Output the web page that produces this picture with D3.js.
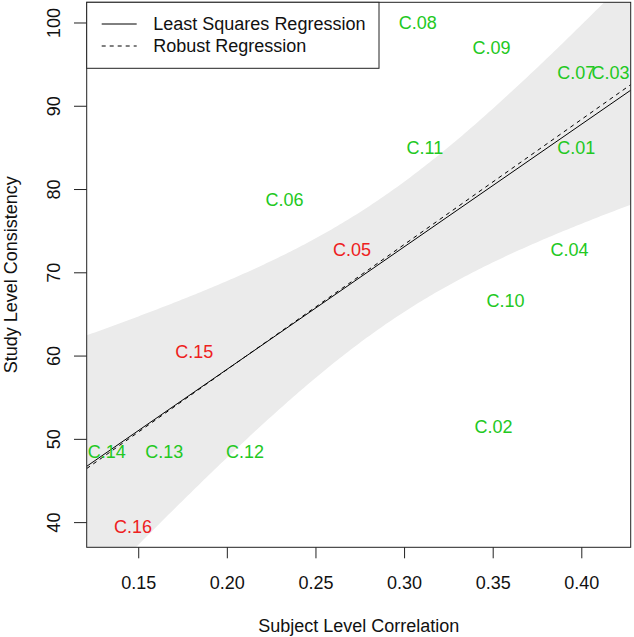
<!DOCTYPE html>
<html>
<head>
<meta charset="utf-8">
<script src="https://cdn.jsdelivr.net/npm/d3@7"></script>
<style>
  html, body { margin: 0; padding: 0; background: #fff; }
  svg { display: block; font-family: "Liberation Sans", Arial, Helvetica, sans-serif; }
</style>
</head>
<body>
<svg id="chart" width="634" height="637"></svg>
<script>
// ---- data ----
const labels = ["C.01","C.02","C.03","C.04","C.05","C.06","C.07","C.08",
                "C.09","C.10","C.11","C.12","C.13","C.14","C.15","C.16"];
const subjectCorr = [0.3972,0.3505,0.4165,0.3933,0.2706,0.2326,0.3972,0.3077,
                     0.3494,0.3573,0.3117,0.2103,0.1647,0.1323,0.1816,0.1471];
const studyConsistency = [85.0,51.5,94.0,72.7,72.7,78.7,94.0,100.0,
                          97.0,66.6,85.0,48.4,48.4,48.4,60.5,39.4];
const flagged = ["C.05","C.15","C.16"];           // drawn in red
const xTicks = [0.15,0.20,0.25,0.30,0.35,0.40];
const yTicks = [40,50,60,70,80,90,100];
const legendLabels = ["Least Squares Regression","Robust Regression"];
const tCrit = 2.144787; // qt(0.975, df = 14)

// ---- layout ----
const W = 634, H = 637;
const plot = {left: 86.7, right: 630.7, top: 2.3, bottom: 547.3};
const FS = 18;
const green = "#22c822", red = "#ee2020", bandFill = "#ebebeb";

const svg = d3.select("#chart");

function rng(a) { const mn = d3.min(a), mx = d3.max(a), d = (mx - mn) * 0.04; return [mn - d, mx + d]; }
const x = d3.scaleLinear().domain(rng(subjectCorr)).range([plot.left, plot.right]);
const y = d3.scaleLinear().domain(rng(studyConsistency)).range([plot.bottom, plot.top]);

// ---- least squares fit ----
const n = subjectCorr.length;
const mx = d3.mean(subjectCorr), my = d3.mean(studyConsistency);
let sxx = 0, sxy = 0;
for (let i = 0; i < n; i++) { sxx += (subjectCorr[i]-mx)**2; sxy += (subjectCorr[i]-mx)*(studyConsistency[i]-my); }
const b1 = sxy / sxx, b0 = my - b1 * mx;
let sse = 0;
for (let i = 0; i < n; i++) sse += (studyConsistency[i] - b0 - b1*subjectCorr[i])**2;
const s = Math.sqrt(sse / (n - 2));

// ---- robust (Huber M-estimator, IRLS, MAD scale) ----
function robustFit(xs, ys) {
  let a = b0, b = b1;
  const k = 1.345;
  for (let it = 0; it < 100; it++) {
    const r = xs.map((xi, i) => ys[i] - a - b*xi);
    const med = d3.median(r.map(Math.abs));
    const sc = med / 0.6745;
    const w = r.map(ri => { const u = Math.abs(ri / sc); return u <= k ? 1 : k / u; });
    const sw = d3.sum(w);
    const wx = d3.sum(xs.map((xi,i)=>w[i]*xi)) / sw;
    const wy = d3.sum(ys.map((yi,i)=>w[i]*yi)) / sw;
    let nxx = 0, nxy = 0;
    xs.forEach((xi,i)=>{ nxx += w[i]*(xi-wx)**2; nxy += w[i]*(xi-wx)*(ys[i]-wy); });
    const nb = nxy / nxx, na = wy - nb*wx;
    const done = Math.abs(nb-b) < 1e-9 && Math.abs(na-a) < 1e-9;
    a = na; b = nb;
    if (done) break;
  }
  return [a, b];
}
const [r0, r1] = robustFit(subjectCorr, studyConsistency);

// ---- clip ----
svg.append("clipPath").attr("id","clip").append("rect")
  .attr("x", plot.left).attr("y", plot.top)
  .attr("width", plot.right - plot.left).attr("height", plot.bottom - plot.top);
const g = svg.append("g").attr("clip-path","url(#clip)");

// confidence band for the mean
const xd = x.domain();
const grid = d3.range(0, 201).map(i => xd[0] + (xd[1]-xd[0]) * i / 200);
const band = grid.map(xv => {
  const fit = b0 + b1*xv;
  const se = s * Math.sqrt(1/n + (xv-mx)**2 / sxx);
  return {x: xv, lo: fit - tCrit*se, hi: fit + tCrit*se};
});
g.append("path").datum(band)
  .attr("d", d3.area().x(d=>x(d.x)).y0(d=>y(d.lo)).y1(d=>y(d.hi)))
  .attr("fill", bandFill).attr("stroke", "none");

// regression lines
const lineGen = d3.line().x(d=>x(d[0])).y(d=>y(d[1]));
g.append("path").datum(xd.map(v=>[v, b0+b1*v]))
  .attr("d", lineGen).attr("fill","none").attr("stroke","#000").attr("stroke-width",1);
g.append("path").datum(xd.map(v=>[v, r0+r1*v]))
  .attr("d", lineGen).attr("fill","none").attr("stroke","#000").attr("stroke-width",1)
  .attr("stroke-dasharray","4,4");

// labels
svg.append("g").selectAll("text").data(labels).join("text")
  .attr("x", (d,i)=>x(subjectCorr[i]))
  .attr("y", (d,i)=>y(studyConsistency[i]))
  .attr("dy","0.35em")
  .attr("text-anchor","middle")
  .attr("font-size", FS)
  .attr("fill", d => flagged.includes(d) ? red : green)
  .text(d=>d);

// box
svg.append("rect")
  .attr("x", plot.left).attr("y", plot.top)
  .attr("width", plot.right - plot.left).attr("height", plot.bottom - plot.top)
  .attr("fill","none").attr("stroke","#222").attr("stroke-width",1);

// x axis
const xAxis = svg.append("g").attr("transform", `translate(0,${plot.bottom})`)
  .call(d3.axisBottom(x).tickValues(xTicks).tickFormat(d3.format(".2f")).tickSize(11).tickPadding(18));
xAxis.select(".domain").remove();
xAxis.selectAll("line").attr("stroke","#222");
xAxis.selectAll("text").attr("font-size", FS).attr("font-family","Liberation Sans, Arial, sans-serif").attr("fill","#111");

// y axis
const yAxis = svg.append("g").attr("transform", `translate(${plot.left},0)`)
  .call(d3.axisLeft(y).tickValues(yTicks).tickSize(12.7).tickFormat(d3.format("d")));
yAxis.select(".domain").remove();
yAxis.selectAll("line").attr("stroke","#222");
yAxis.selectAll("text")
  .attr("font-size", FS).attr("font-family","Liberation Sans, Arial, sans-serif").attr("fill","#111")
  .attr("x", null).attr("dy", null)
  .attr("text-anchor","middle")
  .attr("transform", `translate(${60 - plot.left},0) rotate(-90)`);

// axis titles
svg.append("text").attr("x", (plot.left+plot.right)/2).attr("y", 631.5)
  .attr("text-anchor","middle").attr("font-size", FS).attr("fill","#111")
  .text("Subject Level Correlation");
svg.append("text")
  .attr("transform", `translate(17.3,${(plot.top+plot.bottom)/2}) rotate(-90)`)
  .attr("text-anchor","middle").attr("font-size", FS).attr("fill","#111")
  .text("Study Level Consistency");

// legend
const leg = svg.append("g");
leg.append("rect").attr("x", plot.left).attr("y", plot.top)
  .attr("width", 379 - plot.left).attr("height", 68.3 - plot.top)
  .attr("fill","#fff").attr("stroke","#222").attr("stroke-width",1);
const legY = [24, 46];
legendLabels.forEach((lab, i) => {
  leg.append("line").attr("x1",101.7).attr("x2",136.7).attr("y1",legY[i]).attr("y2",legY[i])
    .attr("stroke","#000").attr("stroke-width",1)
    .attr("stroke-dasharray", i === 1 ? "4,4" : null);
  leg.append("text").attr("x",153.3).attr("y",legY[i]).attr("dy","0.35em")
    .attr("font-size", FS).attr("fill","#111").text(lab);
});
</script>
</body>
</html>
